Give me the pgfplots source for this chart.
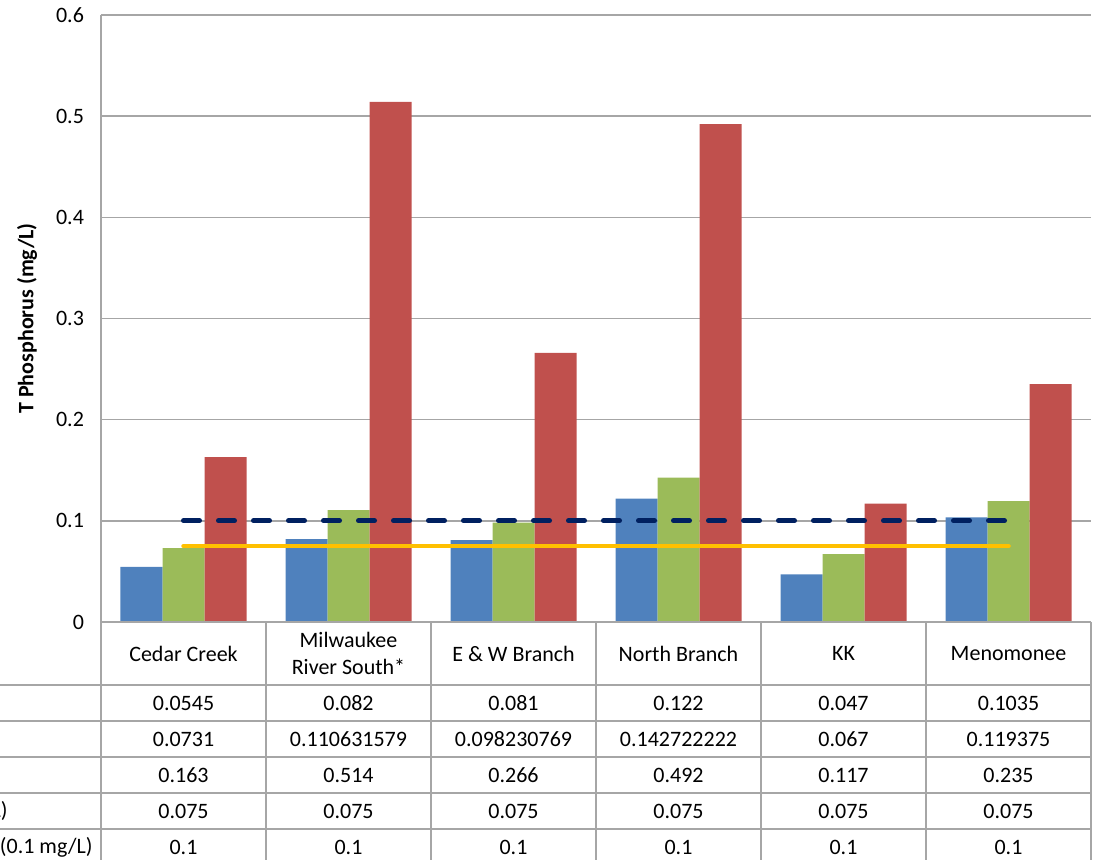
\documentclass[border=0pt]{standalone}
\usepackage{fontspec}
\setmainfont{Carlito}
\usepackage{pgfplots}
\pgfplotsset{compat=1.18}
\definecolor{sblue}{RGB}{79,129,189}
\definecolor{sgreen}{RGB}{155,187,89}
\definecolor{sred}{RGB}{192,80,77}
\definecolor{navy}{RGB}{0,32,96}
\definecolor{gold}{RGB}{255,192,0}
\definecolor{gridc}{RGB}{166,166,166}

\begin{document}
\begin{tikzpicture}[font=\fontsize{11}{13.4}\selectfont]
\useasboundingbox (-50.5pt,-119pt) rectangle (498pt,311pt);
\clip (-50.5pt,-119pt) rectangle (498pt,311pt);
\begin{axis}[
    scale only axis,
    width=495pt, height=303.5pt,
    xmin=-0.5, xmax=5.5, ymin=0, ymax=0.6,
    xtick=\empty,
    ytick={0,0.1,0.2,0.3,0.4,0.5,0.6},
    yticklabels={0,0.1,0.2,0.3,0.4,0.5,0.6},
    yticklabel style={xshift=-5pt},
    major tick length=0pt,
    ymajorgrids,
    grid style={gridc, line width=0.75pt},
    axis line style={draw=none},
]
% mean / median / max per watershed
\addplot[ybar, bar width=21pt, bar shift=-21pt, fill=sblue, draw=none]
  coordinates {(0,0.0545) (1,0.082) (2,0.081) (3,0.122) (4,0.047) (5,0.1035)};
\addplot[ybar, bar width=21pt, bar shift=0pt, fill=sgreen, draw=none]
  coordinates {(0,0.0731) (1,0.110631579) (2,0.098230769) (3,0.142722222) (4,0.067) (5,0.119375)};
\addplot[ybar, bar width=21pt, bar shift=21pt, fill=sred, draw=none]
  coordinates {(0,0.163) (1,0.514) (2,0.266) (3,0.492) (4,0.117) (5,0.235)};
% criteria lines
\addplot[gold, line width=2.25pt, line cap=round]
  coordinates {(0,0.075) (1,0.075) (2,0.075) (3,0.075) (4,0.075) (5,0.075)};
\addplot[navy, line width=2.5pt, line cap=round, dash pattern=on 8pt off 9.5pt]
  coordinates {(0,0.1) (1,0.1) (2,0.1) (3,0.1) (4,0.1) (5,0.1)};
\end{axis}

% y label
\node[rotate=90, font=\fontsize{11}{13.4}\selectfont\bfseries] at (-37pt,151.75pt) {T Phosphorus (mg/L)};

% data table grid
\begin{scope}[gridc, line width=0.75pt]
\draw (0pt,303.5pt) -- (0pt,-119pt);
\draw (0pt,0pt) -- (495pt,0pt);
\foreach \y in {-31.5,-49.5,-67.5,-85.5,-103.5}
  \draw (-50.5pt,\y pt) -- (495pt,\y pt);
\foreach \x in {82.5,165,247.5,330,412.5,495}
  \draw (\x pt,0pt) -- (\x pt,-119pt);
\end{scope}

% category row
\node[align=center] at (41.25pt,-15.75pt) {Cedar Creek};
\node[align=center] at (123.75pt,-15.75pt) {Milwaukee\\River South*};
\node[align=center] at (206.25pt,-15.75pt) {E \& W Branch};
\node[align=center] at (288.75pt,-15.75pt) {North Branch};
\node[align=center] at (371.25pt,-15.75pt) {KK};
\node[align=center] at (453.75pt,-15.75pt) {Menomonee};

% value rows
\foreach \v [count=\i from 0] in {0.0545,0.082,0.081,0.122,0.047,0.1035}
  \node at (41.25pt+82.5pt*\i,-40.5pt) {\v};
\foreach \v [count=\i from 0] in {0.0731,0.110631579,0.098230769,0.142722222,0.067,0.119375}
  \node at (41.25pt+82.5pt*\i,-58.5pt) {\v};
\foreach \v [count=\i from 0] in {0.163,0.514,0.266,0.492,0.117,0.235}
  \node at (41.25pt+82.5pt*\i,-76.5pt) {\v};
\foreach \v [count=\i from 0] in {0.075,0.075,0.075,0.075,0.075,0.075}
  \node at (41.25pt+82.5pt*\i,-94.5pt) {\v};
\foreach \v [count=\i from 0] in {0.1,0.1,0.1,0.1,0.1,0.1}
  \node at (41.25pt+82.5pt*\i,-112.5pt) {\v};

% series names (cut off at the left edge)
\node[anchor=east, inner sep=0pt] at (-46.5pt,-94.5pt) {L)};
\node[anchor=east, inner sep=0pt] at (-4pt,-112.5pt) {(0.1 mg/L)};
\end{tikzpicture}
\end{document}
